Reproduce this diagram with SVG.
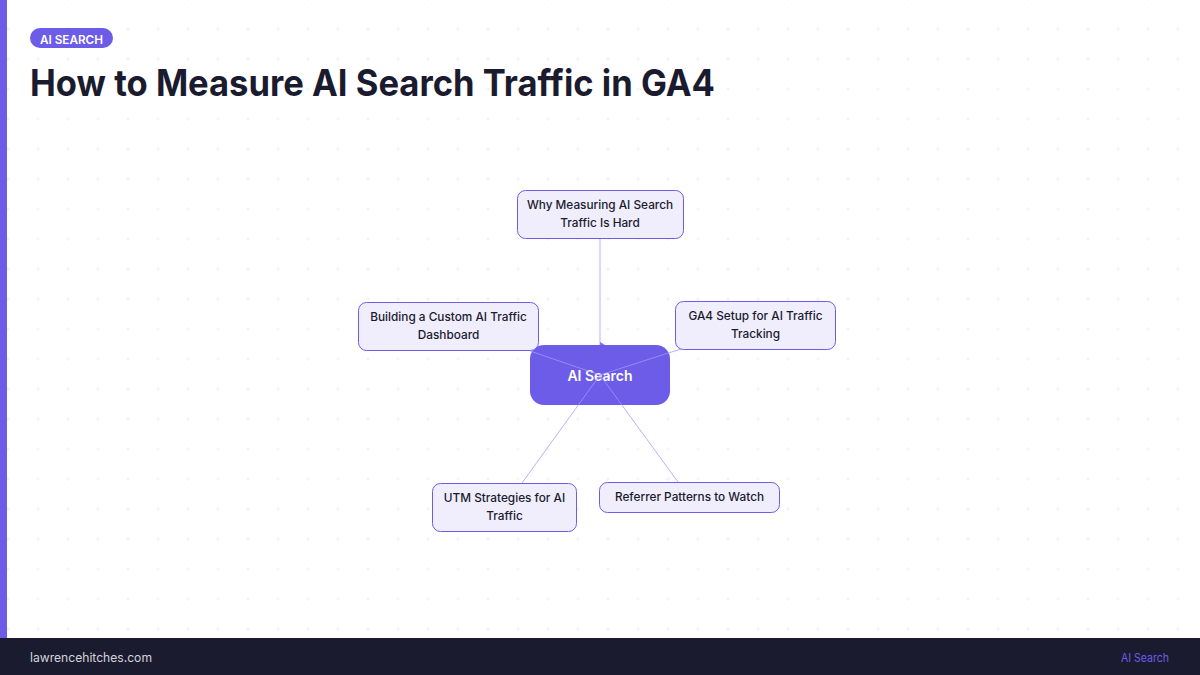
<svg xmlns="http://www.w3.org/2000/svg" width="1200" height="675" viewBox="0 0 1200 675">
<defs>
<pattern id="grid" x="-7" y="-16" width="30" height="30" patternUnits="userSpaceOnUse">
<path d="M15 13 V17 M13 15 H17" stroke="#f1f0f8" stroke-width="1"/>
</pattern>
<marker id="tip" markerWidth="6" markerHeight="6" refX="3" refY="5" orient="auto" markerUnits="userSpaceOnUse">
<path d="M0 5 L3 0 L6 5 Z" fill="#6c5ce7"/>
</marker>
<style>
.node rect{fill:#f0eefc;stroke:#6c5ce7;stroke-width:1}
.node text{font-family:Inter,"Noto Sans",sans-serif;font-size:11.8px;fill:#1b1b2f;text-anchor:middle;font-weight:500}
.conn line{stroke:#a29bfe;stroke-width:0.9;opacity:0.85}
</style>
</defs>
<rect width="1200" height="675" fill="#ffffff"/>
<rect x="0" y="0" width="1200" height="638" fill="url(#grid)"/>
<rect x="0" y="0" width="7" height="638" fill="#6c5ce7"/>
<g id="badge">
<rect x="30" y="28" width="83" height="20" rx="10" fill="#6c5ce7"/>
<text x="71.5" y="43.5" font-family="Inter,sans-serif" font-size="12" font-weight="600" fill="#ffffff" text-anchor="middle" textLength="63" lengthAdjust="spacingAndGlyphs">AI SEARCH</text>
</g>
<text id="title" x="30" y="96" font-family="Inter,sans-serif" font-size="37" font-weight="700" fill="#1b1b2f" textLength="685" lengthAdjust="spacingAndGlyphs">How to Measure AI Search Traffic in GA4</text>

<g id="center">
<rect x="530" y="345" width="140" height="60" rx="14" fill="#6c5ce7"/>
<text x="600" y="381" font-family="Inter,sans-serif" font-size="14" font-weight="600" fill="#ffffff" text-anchor="middle">AI Search</text>
</g>
<g id="connectors" class="conn">
<line x1="600" y1="238" x2="600" y2="345" marker-end="url(#tip)"/>
<line x1="600" y1="375" x2="530" y2="351"/>
<line x1="600" y1="375" x2="684" y2="348"/>
<line x1="600" y1="375" x2="522" y2="483"/>
<line x1="600" y1="375" x2="678" y2="482"/>
</g>
<g id="n1" class="node">
<rect x="517.5" y="190.5" width="166" height="48" rx="8"/>
<text x="600" y="208.5">Why Measuring AI Search</text>
<text x="600" y="226.5">Traffic Is Hard</text>
</g>
<g id="n2" class="node">
<rect x="358.5" y="302.5" width="180" height="48" rx="8"/>
<text x="448.5" y="320.5">Building a Custom AI Traffic</text>
<text x="448.5" y="338.5">Dashboard</text>
</g>
<g id="n3" class="node">
<rect x="675.5" y="301.5" width="160" height="48" rx="8"/>
<text x="755.5" y="319.5">GA4 Setup for AI Traffic</text>
<text x="755.5" y="337.5">Tracking</text>
</g>
<g id="n4" class="node">
<rect x="432.5" y="483.5" width="144" height="48" rx="8"/>
<text x="504.5" y="501.5">UTM Strategies for AI</text>
<text x="504.5" y="519.5">Traffic</text>
</g>
<g id="n5" class="node">
<rect x="599.5" y="482.5" width="180" height="30" rx="8"/>
<text x="689.5" y="501">Referrer Patterns to Watch</text>
</g>
<g id="footer">
<rect x="0" y="638" width="1200" height="37" fill="#1b1b2f"/>
<text x="30" y="662" font-family="Inter,sans-serif" font-size="12.5" fill="#d4d4dc" textLength="122" lengthAdjust="spacingAndGlyphs">lawrencehitches.com</text>
<text x="1169" y="662" font-family="Inter,sans-serif" font-size="11.5" fill="#6c5ce7" text-anchor="end" textLength="48" lengthAdjust="spacingAndGlyphs">AI Search</text>
</g>
</svg>
